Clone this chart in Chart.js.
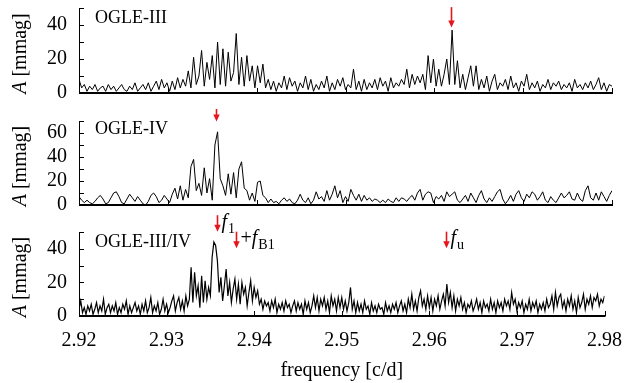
<!DOCTYPE html>
<html>
<head>
<meta charset="utf-8">
<script src="https://cdn.jsdelivr.net/npm/chart.js@4.4.0/dist/chart.umd.min.js"></script>
<style>
  html, body { margin: 0; padding: 0; background: #fff; }
  #wrap { position: relative; width: 635px; height: 383px; overflow: hidden; }
  canvas { position: absolute; left: 0; }
</style>
</head>
<body>
<div id="wrap">
  <canvas id="p1" width="635" height="108" style="top:0px"></canvas>
  <canvas id="p3" width="635" height="175" style="top:208px"></canvas>
  <canvas id="p2" width="635" height="120" style="top:108px"></canvas>
</div>
<script>
// frequency grid of each periodogram (c/d)
var freqStart = 2.92;
var stepOgle3 = 0.0003;
var stepOgle4 = 0.0003;
var stepCombined = 0.0002;

// amplitudes in mmag
var ampOgle3 = [
  8, 3, 5, 1, 4, 2, 5, 1, 3, 4,
  1, 5, 2, 4, 1, 3, 5, 2, 1, 4,
  2, 6, 1, 3, 5, 2, 6, 1, 4, 7,
  2, 8, 3, 6, 1, 7, 2, 9, 3, 8,
  4, 13, 3, 21, 5, 10, 25, 4, 18, 8,
  22, 3, 30, 5, 26, 4, 24, 7, 12, 35,
  5, 21, 4, 22, 7, 16, 3, 16, 6, 17,
  3, 8, 2, 7, 1, 6, 3, 10, 2, 9,
  4, 7, 1, 6, 3, 10, 2, 8, 1, 5,
  2, 7, 3, 10, 1, 6, 2, 8, 4, 9,
  2, 5, 3, 14, 2, 7, 1, 8, 2, 6,
  3, 8, 2, 9, 4, 7, 1, 9, 3, 6,
  4, 8, 5, 14, 3, 11, 5, 10, 6, 11,
  2, 22, 6, 20, 4, 14, 4, 11, 20, 5,
  37, 5, 19, 3, 11, 2, 9, 16, 4, 16,
  2, 8, 3, 10, 1, 7, 11, 2, 6, 4,
  8, 2, 10, 3, 6, 1, 7, 4, 11, 2,
  6, 3, 7, 1, 5, 3, 8, 2, 6, 4,
  7, 2, 5, 3, 6, 1, 8, 3, 5, 2,
  6, 3, 7, 2, 5, 9, 2, 6, 1, 5, 4
];
var ampOgle4 = [
  7, 4, 2, 4, 2, 1, 3, 6, 8, 5,
  1, 2, 6, 10, 11, 7, 2, 1, 5, 9,
  6, 3, 7, 4, 1, 0, 3, 8, 10, 7,
  2, 4, 8, 5, 2, 9, 14, 5, 16, 4,
  13, 6, 32, 38, 12, 18, 8, 31, 10, 22,
  4, 50, 61, 22, 16, 8, 26, 9, 27, 6,
  30, 36, 14, 12, 4, 10, 3, 19, 20, 8,
  6, 2, 5, 2, 3, 1, 4, 6, 3, 5,
  2, 1, 4, 9, 4, 2, 6, 1, 4, 11,
  5, 7, 3, 12, 4, 9, 16, 6, 12, 2,
  7, 3, 13, 8, 4, 9, 3, 8, 4, 6,
  3, 5, 4, 2, 4, 2, 5, 3, 2, 6,
  3, 6, 5, 3, 6, 8, 4, 10, 13, 4,
  9, 11, 10, 2, 7, 5, 8, 3, 11, 7,
  9, 11, 4, 2, 5, 8, 3, 10, 6, 2,
  8, 12, 5, 2, 6, 3, 7, 11, 13, 5,
  1, 4, 8, 3, 9, 12, 6, 3, 9, 6,
  11, 9, 4, 7, 11, 4, 2, 7, 4, 2,
  6, 10, 6, 8, 11, 5, 4, 10, 5, 3,
  12, 16, 6, 4, 10, 4, 11, 7, 3, 8, 12
];
var ampCombined = [
  4, 9, 2, 5, 1, 6, 3, 7, 1, 4,
  8, 2, 6, 3, 10, 1, 5, 7, 2, 6,
  3, 8, 1, 5, 2, 7, 4, 9, 1, 6,
  2, 5, 8, 3, 6, 1, 7, 3, 9, 2,
  5, 11, 2, 6, 3, 8, 1, 4, 10, 3,
  7, 2, 5, 9, 12, 3, 8, 11, 4, 9,
  3, 12, 6, 10, 29, 8, 26, 12, 18, 5,
  24, 8, 21, 10, 17, 12, 35, 44, 42, 33,
  14, 23, 9, 18, 28, 12, 20, 8, 16, 22,
  10, 19, 7, 20, 13, 17, 6, 14, 21, 9,
  17, 11, 15, 7, 10, 4, 9, 6, 8, 3,
  9, 5, 10, 2, 7, 4, 8, 3, 9, 5,
  7, 2, 6, 9, 3, 8, 4, 7, 1, 9,
  4, 8, 2, 6, 12, 5, 11, 3, 10, 6,
  11, 4, 9, 2, 12, 6, 10, 3, 11, 5,
  11, 4, 9, 3, 8, 17, 4, 9, 2, 8,
  3, 7, 2, 9, 4, 6, 1, 8, 3, 6,
  2, 7, 4, 5, 1, 8, 3, 6, 2, 7,
  4, 8, 2, 6, 9, 3, 7, 2, 10, 5,
  13, 4, 9, 3, 11, 15, 6, 10, 4, 12,
  5, 11, 3, 10, 6, 12, 4, 9, 13, 6,
  19, 8, 14, 5, 12, 3, 10, 6, 11, 4,
  8, 2, 7, 5, 9, 3, 6, 10, 4, 8,
  2, 9, 5, 7, 3, 10, 4, 8, 2, 9,
  5, 8, 3, 10, 6, 9, 4, 14, 7, 10,
  3, 8, 5, 9, 2, 7, 4, 10, 3, 8,
  5, 9, 2, 7, 4, 8, 3, 10, 5, 7,
  12, 4, 14, 6, 11, 13, 5, 9, 3, 10,
  6, 12, 4, 9, 2, 11, 5, 8, 13, 4,
  10, 7, 12, 5, 11, 9, 13, 6, 10, 8, 12
];

// axes
var xTicks = [2.92, 2.93, 2.94, 2.95, 2.96, 2.97, 2.98];
var yTicksOgle3 = [0, 20, 40];
var yTicksOgle4 = [0, 20, 40, 60];
var yTicksCombined = [0, 20, 40];

// marked frequencies
var fMain = 2.9357;
var fBlazhko = 2.9379;
var fUnknown = 2.9619;
var fOgle3Peak = 2.9619;
var fOgle4Peak = 2.9354;

var serif = '"Liberation Serif", "DejaVu Serif", serif';

function toPoints(amps, step) {
  return amps.map(function(a, i) {
    return { x: +(freqStart + i * step).toFixed(5), y: a };
  });
}

function drawArrow(ctx, px, y0, y1) {
  ctx.save();
  ctx.strokeStyle = '#e8141c';
  ctx.fillStyle = '#e8141c';
  ctx.lineWidth = 1.6;
  ctx.beginPath();
  ctx.moveTo(px, y0);
  ctx.lineTo(px, y1 - 5);
  ctx.stroke();
  ctx.beginPath();
  ctx.moveTo(px - 3.2, y1 - 7);
  ctx.lineTo(px + 3.2, y1 - 7);
  ctx.lineTo(px, y1);
  ctx.closePath();
  ctx.fill();
  ctx.restore();
}

// f_1 style labels: pieces are [text, 'i' italic | 'n' normal | 's' subscript]
function drawLabel(ctx, x, base, pieces) {
  ctx.save();
  ctx.fillStyle = '#000';
  ctx.textBaseline = 'alphabetic';
  ctx.textAlign = 'left';
  pieces.forEach(function(p) {
    var yy = base;
    if (p[1] === 'i') ctx.font = 'italic 20px ' + serif;
    else if (p[1] === 's') { ctx.font = '14px ' + serif; yy = base + 5; }
    else ctx.font = '20px ' + serif;
    ctx.fillText(p[0], x, yy);
    x += ctx.measureText(p[0]).width + (p[1] === 'i' ? 1 : 0);
  });
  ctx.restore();
}

var panelDeco = {
  id: 'panelDeco',
  afterDatasetsDraw: function(chart, args, opts) {
    var ctx = chart.ctx, a = chart.chartArea;
    var x = chart.scales.x, y = chart.scales.y;
    ctx.save();
    ctx.strokeStyle = '#000';
    ctx.lineWidth = 1;
    ctx.beginPath();
    ctx.moveTo(a.left + 0.5, a.top);
    ctx.lineTo(a.left + 0.5, a.bottom);
    for (var v = 0; v <= opts.yMax; v += 10) {
      var py = Math.round(y.getPixelForValue(v)) + 0.5;
      ctx.moveTo(a.left, py);
      ctx.lineTo(a.left + 5, py);
    }
    ctx.stroke();
    ctx.lineWidth = 2;
    ctx.beginPath();
    ctx.moveTo(a.left, a.bottom);
    ctx.lineTo(a.right + 1, a.bottom);
    ctx.stroke();
    ctx.lineWidth = 1;
    ctx.beginPath();
    xTicks.forEach(function(t) {
      var px = Math.round(x.getPixelForValue(t)) + 0.5;
      ctx.moveTo(px, a.bottom);
      ctx.lineTo(px, a.bottom - 5);
    });
    ctx.stroke();

    // panel name
    ctx.fillStyle = '#000';
    ctx.font = '18px ' + serif;
    ctx.textBaseline = 'alphabetic';
    ctx.fillText(opts.name, a.left + 16, a.top + opts.nameDy);

    // y title: italic A + [mmag]
    ctx.save();
    ctx.translate(21, (a.top + a.bottom) / 2 + 3);
    ctx.rotate(-Math.PI / 2);
    ctx.textBaseline = 'middle';
    ctx.font = 'italic 20px ' + serif;
    var wA = ctx.measureText('A').width;
    ctx.font = '20px ' + serif;
    var wR = ctx.measureText(' [mmag]').width;
    var sx = -(wA + wR) / 2;
    ctx.font = 'italic 20px ' + serif;
    ctx.fillText('A', sx, 0);
    ctx.font = '20px ' + serif;
    ctx.fillText(' [mmag]', sx + wA, 0);
    ctx.restore();

    // arrows
    (opts.arrows || []).forEach(function(ar) {
      var px = Math.round(x.getPixelForValue(ar.f)) + 0.5;
      var y0 = y.getPixelForValue(ar.from), y1 = y.getPixelForValue(ar.to);
      drawArrow(ctx, px, y0, y1);
      if (ar.label) drawLabel(ctx, px + 4, y0 + 12.5, ar.label);
    });
    ctx.restore();
  }
};

function makePanel(id, amps, step, yTicks, yMax, pad, deco, showX, lineWidth) {
  var ctx = document.getElementById(id).getContext('2d');
  return new Chart(ctx, {
    type: 'line',
    data: {
      datasets: [{
        data: toPoints(amps, step),
        borderColor: '#000',
        borderWidth: lineWidth,
        pointRadius: 0,
        tension: 0,
        fill: false
      }]
    },
    options: {
      responsive: false,
      animation: false,
      parsing: false,
      layout: { padding: { left: 0, right: 23, top: pad.top, bottom: pad.bottom } },
      plugins: {
        legend: { display: false },
        tooltip: { enabled: false },
        panelDeco: deco
      },
      scales: {
        x: {
          type: 'linear',
          min: 2.92,
          max: 2.98,
          display: showX,
          grid: { display: false, drawTicks: false },
          border: { display: false },
          afterBuildTicks: function(s) { s.ticks = xTicks.map(function(v) { return { value: v }; }); },
          afterFit: function(s) { if (showX) s.height = 67; },
          ticks: {
            color: '#000',
            padding: 13,
            maxRotation: 0,
            autoSkip: false,
            font: { family: serif, size: 20 },
            callback: function(v) { return v.toFixed(2); }
          },
          title: {
            display: true,
            text: 'frequency [c/d]',
            color: '#000',
            padding: { top: 0, bottom: 0 },
            font: { family: serif, size: 20 }
          }
        },
        y: {
          min: 0,
          max: yMax,
          grid: { display: false, drawTicks: false },
          border: { display: false },
          afterBuildTicks: function(s) { s.ticks = yTicks.map(function(v) { return { value: v }; }); },
          afterFit: function(s) {
            s.width = 79;
            s.paddingTop = 0;
            s.paddingBottom = 0;
          },
          ticks: {
            color: '#000',
            padding: 12,
            autoSkip: false,
            font: { family: serif, size: 20 }
          }
        }
      }
    },
    plugins: [panelDeco]
  });
}

makePanel('p1', ampOgle3, stepOgle3, yTicksOgle3, 50, { top: 8, bottom: 15 }, {
  name: 'OGLE-III', nameDy: 15, yMax: 50,
  arrows: [{ f: fOgle3Peak, from: 50.5, to: 38.5 }]
}, false, 1);

makePanel('p2', ampOgle4, stepOgle4, yTicksOgle4, 70, { top: 13, bottom: 23 }, {
  name: 'OGLE-IV', nameDy: 13, yMax: 70,
  arrows: [{ f: fOgle4Peak, from: 80, to: 69.5 }]
}, false, 1);

makePanel('p3', ampCombined, stepCombined, yTicksCombined, 50, { top: 24, bottom: 0 }, {
  name: 'OGLE-III/IV', nameDy: 15, yMax: 50,
  arrows: [
    { f: fMain, from: 60, to: 50.2, label: [['f', 'i'], ['1', 's']] },
    { f: fBlazhko, from: 50.2, to: 40.4, label: [['+', 'n'], ['f', 'i'], ['B1', 's']] },
    { f: fUnknown, from: 50.2, to: 40.4, label: [['f', 'i'], ['u', 's']] }
  ]
}, true, 1.2);
</script>
</body>
</html>
